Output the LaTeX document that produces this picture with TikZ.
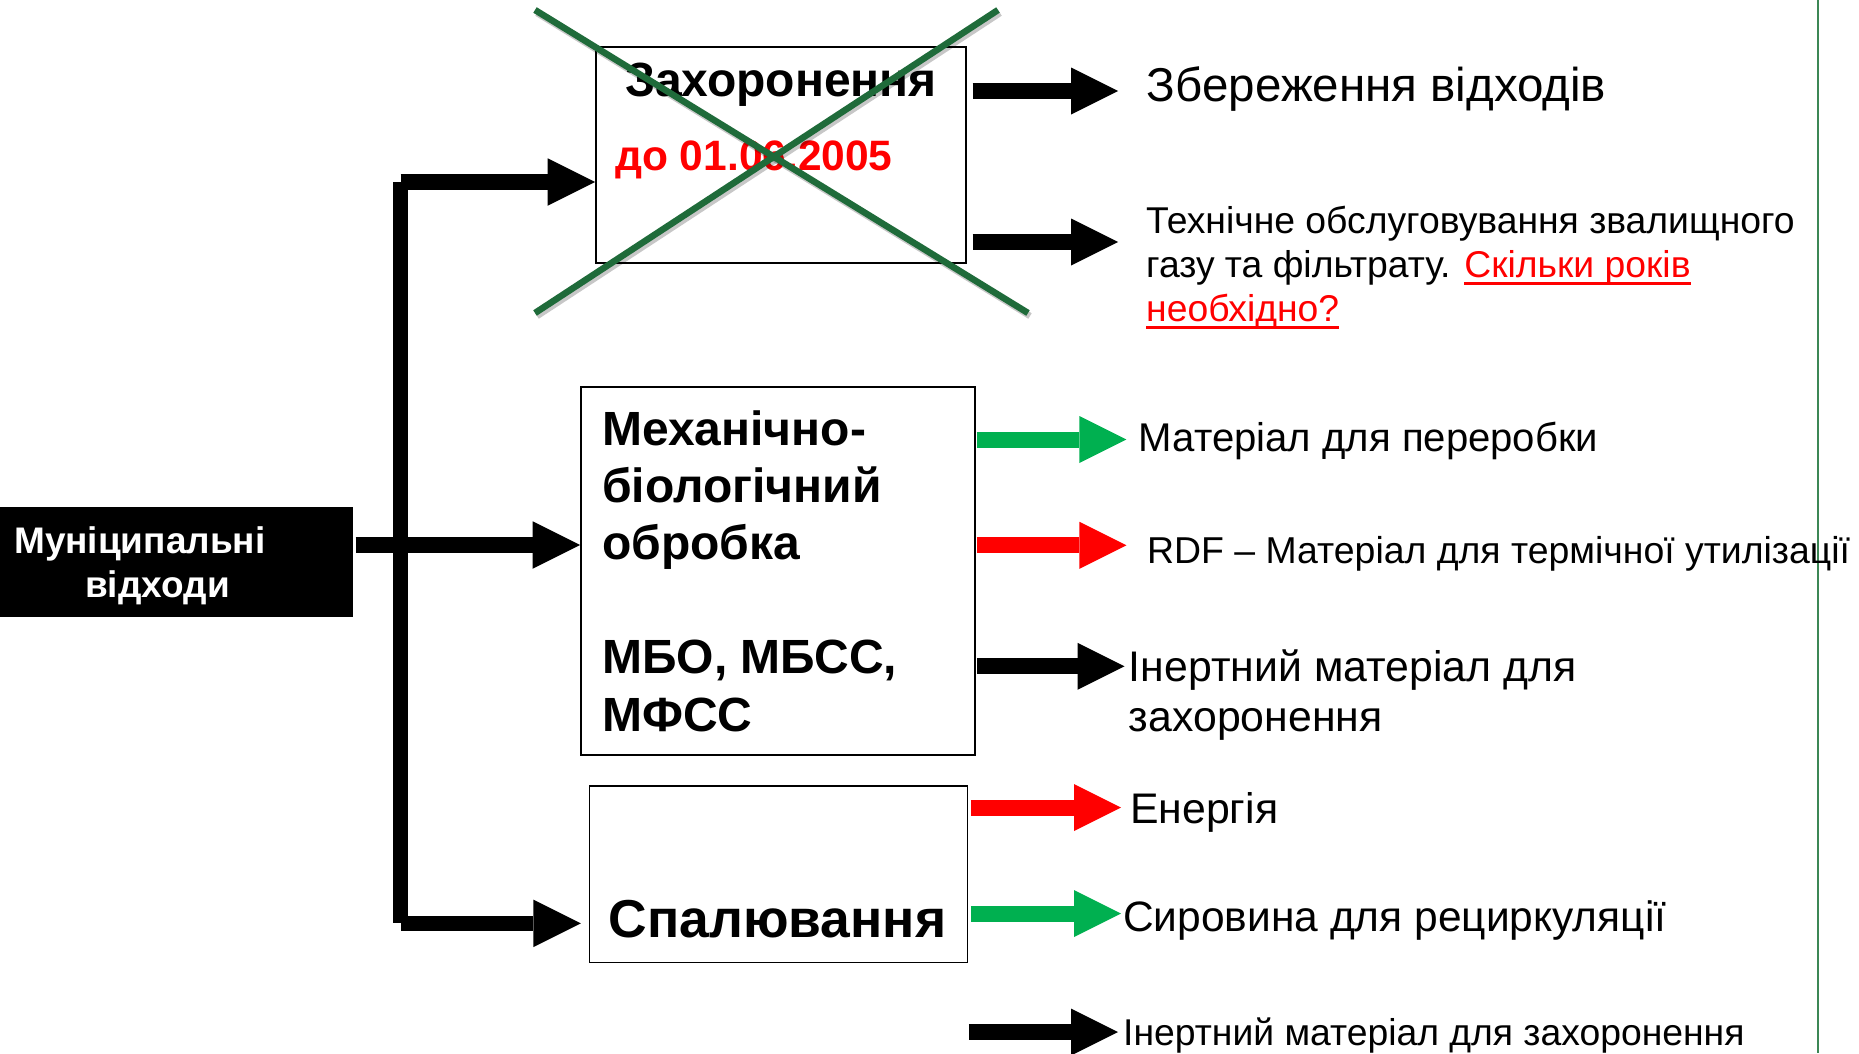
\documentclass[tikz,border=0pt]{standalone}
\usepackage{fontspec}
\setmainfont{Liberation Sans}
\usetikzlibrary{arrows.meta}
\definecolor{pgreen}{RGB}{0,176,80}
\definecolor{pred}{RGB}{255,0,0}
\definecolor{crossgreen}{RGB}{31,107,58}
\definecolor{edgegreen}{RGB}{60,135,85}
\newcommand\fsz[2]{\fontsize{#1}{#2}\selectfont}
\newcommand\redul[1]{\setbox0\hbox{#1}\rlap{\rule[-7pt]{\wd0}{3pt}}\box0}
\begin{document}
\begin{tikzpicture}[x=1pt,y=-1pt,
  box/.style={draw=black, line width=1.6pt, fill=white, inner sep=0pt},
  txt/.style={inner sep=0pt, anchor=base west},
  fat/.style={line width=15.5pt, line cap=butt},
  fatarr/.style={line width=15.5pt, -{Triangle[length=47.5pt,width=47.5pt,line width=0pt]}},
  outarr/.style={line width=16pt, -{Triangle[length=47pt,width=47pt,line width=0pt]}},
  crossline/.style={line width=6.5pt, crossgreen},
  crossshadow/.style={line width=6.5pt, black, opacity=0.22}]
\useasboundingbox (0,0) rectangle (1859,1053);
\fill[white] (0,0) rectangle (1859,1053);

% right edge line
\draw[edgegreen, line width=1.5pt] (1818,0) -- (1818,1053);

% boxes
\node[box, fill=black, draw=none, minimum width=352.7pt, minimum height=110pt] (waste) at (176.35,562.3) {};
\node[box, minimum width=370pt, minimum height=215.7pt] (landfill) at (781,154.85) {};
\node[box, minimum width=394pt, minimum height=368.3pt] (mbt) at (778,570.85) {};
\node[box, minimum width=378.2pt, minimum height=176.3pt] (incin) at (778.4,874.15) {};

% box texts
\node[txt, text=white, font=\bfseries\fsz{37}{44}] (wastetxt) at (14,553)
  {\begin{tabular}[t]{@{}l@{}}Муніципальні\\\hspace*{71pt}відходи\end{tabular}};
\node[inner sep=0pt, anchor=base, font=\bfseries\fsz{48}{56}] (landtitle) at (781,96.7) {Захоронення};
\node[txt, text=pred, font=\bfseries\fsz{42.5}{50}] (landdate) at (615,170) {до 01.06.2005};
\node[txt, font=\bfseries\fsz{48}{57.2}] (mbttxt) at (602,445)
  {\begin{tabular}[t]{@{}l@{}}Механічно-\\біологічний\\обробка\\ \\МБО, МБСС,\\МФСС\end{tabular}};
\node[inner sep=0pt, anchor=base, font=\bfseries\fsz{53.4}{60}] (incintxt) at (777.5,937) {Спалювання};

% output texts
\node[txt, font=\fsz{47.5}{54}] (store) at (1146.7,101.7) {Збереження відходів};
\node[txt, font=\fsz{37.3}{44.2}] (maint) at (1146,233.3)
  {\begin{tabular}[t]{@{}l@{}}Технічне обслуговування звалищного\\газу та фільтрату. {\color{pred}\redul{Скільки років}}\\{\color{pred}\redul{необхідно?}}\end{tabular}};
\node[txt, font=\fsz{40.1}{47}] (recyc) at (1138.7,451.7) {Матеріал для переробки};
\node[txt, font=\fsz{37.4}{44}] (rdf) at (1147,563.3) {RDF – Матеріал для термічної утилізації};
\node[txt, font=\fsz{42.8}{50}] (inert1) at (1128.7,681.7)
  {\begin{tabular}[t]{@{}l@{}}Інертний матеріал для\\захоронення\end{tabular}};
\node[txt, font=\fsz{42.8}{50}] (energy) at (1130,823.3) {Енергія};
\node[txt, font=\fsz{42.5}{48}] (raw) at (1123,931.7) {Сировина для рециркуляції};
\node[txt, font=\fsz{37.3}{44}] (inert2) at (1123,1045) {Інертний матеріал для захоронення};

% trunk connectors
\coordinate (ttop) at (400.5,182);
\coordinate (tbot) at (400.5,923.4);
\coordinate (tmid) at (400.5,545);
\draw[fat] (ttop) -- (tbot);
\draw[fatarr] (ttop) -- (landfill.west |- ttop);
\draw[fatarr] (tbot) -- ([xshift=-7.6pt]incin.west |- tbot);
\draw[fatarr] ([xshift=2pt]waste.east |- tmid) -- (mbt.west |- tmid);

% output arrow tips
\coordinate (a1) at (1118,91);
\coordinate (a2) at (1118,242);
\coordinate (b1) at (1126.4,439.5);
\coordinate (b2) at (1126.4,545.3);
\coordinate (b3) at (1124.5,666.3);
\coordinate (c1) at (1121,807.5);
\coordinate (c2) at (1121,913.5);
\coordinate (c3) at (1118,1032);

\draw[outarr, black] ([xshift=5.7pt]landfill.east |- a1) -- (a1);
\draw[outarr, black] ([xshift=5.7pt]landfill.east |- a2) -- (a2);
\draw[outarr, pgreen] ([xshift=1pt]mbt.east |- b1) -- (b1);
\draw[outarr, pred] ([xshift=1pt]mbt.east |- b2) -- (b2);
\draw[outarr, black] ([xshift=1pt]mbt.east |- b3) -- (b3);
\draw[outarr, pred] ([xshift=2.5pt]incin.east |- c1) -- (c1);
\draw[outarr, pgreen] ([xshift=2.5pt]incin.east |- c2) -- (c2);
\draw[outarr, black] ([xshift=0.5pt]incin.east |- c3) -- (c3);

% cross over landfill
\coordinate (x1) at (535,10);
\coordinate (x2) at (1028,313);
\coordinate (x3) at (998,10);
\coordinate (x4) at (535,313);
\draw[crossshadow] (537,13) -- (1030,316);
\draw[crossshadow] (1000,13) -- (537,316);
\draw[crossline] (x1) -- (x2);
\draw[crossline] (x3) -- (x4);
\end{tikzpicture}
\end{document}
